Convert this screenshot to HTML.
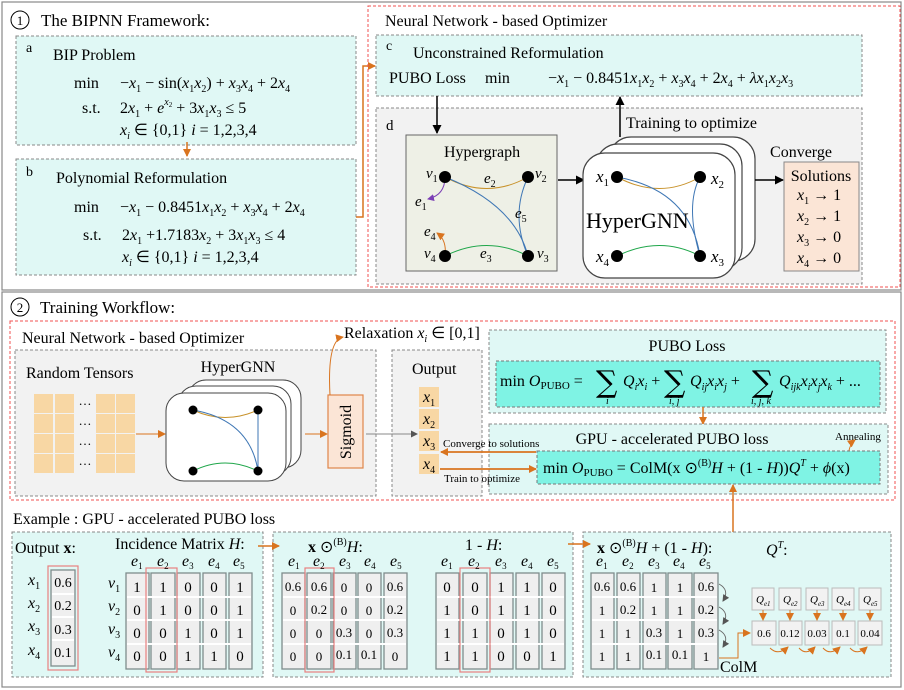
<!DOCTYPE html>
<html><head><meta charset="utf-8"><style>
html,body{margin:0;padding:0;background:#fff}
svg{display:block;font-family:"Liberation Serif",serif}
.i{font-style:italic}
.sg{font-family:"DejaVu Serif",serif}
</style></head><body>
<svg width="904" height="690" viewBox="0 0 904 690" xmlns="http://www.w3.org/2000/svg">
<defs>
<marker id="ao" markerWidth="8" markerHeight="8" refX="7" refY="4" orient="auto" markerUnits="userSpaceOnUse"><path d="M0,0 L8,4 L0,8 z" fill="#d9741f"/></marker>
<marker id="ab" markerWidth="9" markerHeight="9" refX="8" refY="4.5" orient="auto" markerUnits="userSpaceOnUse"><path d="M0,0 L9,4.5 L0,9 z" fill="#000"/></marker>
<marker id="ag" markerWidth="7" markerHeight="7" refX="6" refY="3.5" orient="auto" markerUnits="userSpaceOnUse"><path d="M0,0 L7,3.5 L0,7 z" fill="#555"/></marker>
<marker id="ap" markerWidth="7" markerHeight="7" refX="6" refY="3.5" orient="auto" markerUnits="userSpaceOnUse"><path d="M0,0 L7,3.5 L0,7 z" fill="#7b3fb5"/></marker>
</defs>
<rect x="2" y="2" width="899" height="288" fill="none" stroke="#888" stroke-width="1.2"/>
<rect x="2" y="292" width="899" height="395" fill="none" stroke="#888" stroke-width="1.2"/>

<circle cx="20" cy="20" r="9" fill="none" stroke="#000"/>
<text x="20" y="25" font-size="13" text-anchor="middle">1</text>
<text x="41" y="26" font-size="17">The BIPNN Framework:</text>

<rect x="16" y="36" width="340" height="109" fill="#e0f8f5" stroke="#888" stroke-dasharray="3,2"/>
<text x="26" y="52" font-size="14">a</text>
<text x="53" y="60" font-size="16">BIP Problem</text>
<text x="74" y="88" font-size="16">min</text>
<text x="120" y="88" font-size="16">−<tspan class="i">x</tspan><tspan font-size="10" dy="4">1</tspan><tspan dy="-4"> − sin(</tspan><tspan class="i">x</tspan><tspan font-size="10" dy="4">1</tspan><tspan dy="-4" class="i">x</tspan><tspan font-size="10" dy="4">2</tspan><tspan dy="-4">) + </tspan><tspan class="i">x</tspan><tspan font-size="10" dy="4">3</tspan><tspan dy="-4" class="i">x</tspan><tspan font-size="10" dy="4">4</tspan><tspan dy="-4"> + 2</tspan><tspan class="i">x</tspan><tspan font-size="10" dy="4">4</tspan></text>
<text x="82" y="113" font-size="16">s.t.</text>
<text x="120" y="113" font-size="16">2<tspan class="i">x</tspan><tspan font-size="10" dy="4">1</tspan><tspan dy="-4"> + </tspan><tspan class="i">e</tspan><tspan class="i" font-size="10" dy="-8">x</tspan><tspan font-size="7" dy="2">2</tspan><tspan dy="6"> + 3</tspan><tspan class="i">x</tspan><tspan font-size="10" dy="4">1</tspan><tspan dy="-4" class="i">x</tspan><tspan font-size="10" dy="4">3</tspan><tspan dy="-4"> ≤ 5</tspan></text>
<text x="120" y="135" font-size="16"><tspan class="i">x</tspan><tspan class="i" font-size="10" dy="4">i</tspan><tspan dy="-4"> ∈ {0,1}    </tspan><tspan class="i">i</tspan> = 1,2,3,4</text>

<line x1="187" y1="142" x2="187" y2="156" stroke="#d9741f" stroke-width="1.5" marker-end="url(#ao)"/>

<rect x="16" y="159" width="340" height="116" fill="#e0f8f5" stroke="#888" stroke-dasharray="3,2"/>
<text x="26" y="176" font-size="14">b</text>
<text x="56" y="183" font-size="16">Polynomial Reformulation</text>
<text x="74" y="212" font-size="16">min</text>
<text x="120" y="212" font-size="16">−<tspan class="i">x</tspan><tspan font-size="10" dy="4">1</tspan><tspan dy="-4"> − 0.8451</tspan><tspan class="i">x</tspan><tspan font-size="10" dy="4">1</tspan><tspan dy="-4" class="i">x</tspan><tspan font-size="10" dy="4">2</tspan><tspan dy="-4"> + </tspan><tspan class="i">x</tspan><tspan font-size="10" dy="4">3</tspan><tspan dy="-4" class="i">x</tspan><tspan font-size="10" dy="4">4</tspan><tspan dy="-4"> + 2</tspan><tspan class="i">x</tspan><tspan font-size="10" dy="4">4</tspan></text>
<text x="83" y="240" font-size="16">s.t.</text>
<text x="122" y="240" font-size="16">2<tspan class="i">x</tspan><tspan font-size="10" dy="4">1</tspan><tspan dy="-4"> +1.7183</tspan><tspan class="i">x</tspan><tspan font-size="10" dy="4">2</tspan><tspan dy="-4"> + 3</tspan><tspan class="i">x</tspan><tspan font-size="10" dy="4">1</tspan><tspan dy="-4" class="i">x</tspan><tspan font-size="10" dy="4">3</tspan><tspan dy="-4"> ≤ 4</tspan></text>
<text x="122" y="262" font-size="16"><tspan class="i">x</tspan><tspan class="i" font-size="10" dy="4">i</tspan><tspan dy="-4"> ∈ {0,1}    </tspan><tspan class="i">i</tspan> = 1,2,3,4</text>

<polyline points="356,217 363,217 363,66 375,66" fill="none" stroke="#d9741f" stroke-width="1.5" marker-end="url(#ao)"/>

<rect x="368" y="6" width="532" height="281" fill="none" stroke="#f05050" stroke-dasharray="3,2"/>
<text x="385" y="26" font-size="16">Neural Network - based Optimizer</text>
<rect x="376" y="35" width="486" height="61" fill="#e0f8f5" stroke="#888" stroke-dasharray="3,2"/>
<text x="386" y="50" font-size="14">c</text>
<text x="413" y="58" font-size="16">Unconstrained Reformulation</text>
<text x="389" y="83" font-size="16">PUBO Loss</text>
<text x="485" y="83" font-size="16">min</text>
<text x="548" y="83" font-size="16">−<tspan class="i">x</tspan><tspan font-size="10" dy="4">1</tspan><tspan dy="-4"> − 0.8451</tspan><tspan class="i">x</tspan><tspan font-size="10" dy="4">1</tspan><tspan dy="-4" class="i">x</tspan><tspan font-size="10" dy="4">2</tspan><tspan dy="-4"> + </tspan><tspan class="i">x</tspan><tspan font-size="10" dy="4">3</tspan><tspan dy="-4" class="i">x</tspan><tspan font-size="10" dy="4">4</tspan><tspan dy="-4"> + 2</tspan><tspan class="i">x</tspan><tspan font-size="10" dy="4">4</tspan><tspan dy="-4"> + </tspan><tspan class="i">λx</tspan><tspan font-size="10" dy="4">1</tspan><tspan dy="-4" class="i">x</tspan><tspan font-size="10" dy="4">2</tspan><tspan dy="-4" class="i">x</tspan><tspan font-size="10" dy="4">3</tspan></text>

<rect x="376" y="108" width="486" height="176" fill="#f2f2f2" stroke="#888" stroke-dasharray="3,2"/>
<text x="386" y="130" font-size="15">d</text>
<line x1="437" y1="96" x2="437" y2="133" stroke="#000" stroke-width="1.5" marker-end="url(#ab)"/>

<rect x="406" y="135" width="151" height="136" fill="#eef0e6" stroke="#666"/>
<text x="482" y="157" font-size="16" text-anchor="middle">Hypergraph</text>
<path d="M445,177 Q487,200 528,177" fill="none" stroke="#c8922a"/>
<path d="M445,177 Q515,205 528,256" fill="none" stroke="#3f77b5"/>
<path d="M528,177 Q510,215 528,256" fill="none" stroke="#3f77b5"/>
<path d="M445,256 Q487,235 528,256" fill="none" stroke="#1fa64a"/>
<path d="M445,177 Q445,195 428,199" fill="none" stroke="#7b3fb5" marker-end="url(#ap)"/>
<path d="M445,256 Q447,240 437,233" fill="none" stroke="#d9741f" marker-end="url(#ao)"/>
<circle cx="445" cy="177" r="6" fill="#000"/><circle cx="528" cy="177" r="6" fill="#000"/>
<circle cx="445" cy="256" r="6" fill="#000"/><circle cx="528" cy="256" r="6" fill="#000"/>
<g font-size="15" class="i">
<text x="426" y="178">v<tspan font-size="10" dy="4" font-style="normal">1</tspan></text>
<text x="535" y="178">v<tspan font-size="10" dy="4" font-style="normal">2</tspan></text>
<text x="537" y="258">v<tspan font-size="10" dy="4" font-style="normal">3</tspan></text>
<text x="424" y="258">v<tspan font-size="10" dy="4" font-style="normal">4</tspan></text>
<text x="484" y="183">e<tspan font-size="10" dy="4" font-style="normal">2</tspan></text>
<text x="415" y="206">e<tspan font-size="10" dy="4" font-style="normal">1</tspan></text>
<text x="515" y="218">e<tspan font-size="10" dy="4" font-style="normal">5</tspan></text>
<text x="424" y="236">e<tspan font-size="10" dy="4" font-style="normal">4</tspan></text>
<text x="480" y="258">e<tspan font-size="10" dy="4" font-style="normal">3</tspan></text>
</g>
<line x1="558" y1="180" x2="584" y2="180" stroke="#000" stroke-width="1.5" marker-end="url(#ab)"/>

<rect x="609" y="137" width="146" height="124" rx="22" fill="#fff" stroke="#444" stroke-width="1.2"/>
<rect x="596" y="144" width="146" height="126" rx="22" fill="#fff" stroke="#444" stroke-width="1.2"/>
<rect x="583" y="153" width="152" height="125" rx="22" fill="#fff" stroke="#444" stroke-width="1.2"/>
<path d="M617,177 Q660,200 700,177" fill="none" stroke="#c8922a"/>
<path d="M617,177 Q690,190 700,256" fill="none" stroke="#3f77b5"/>
<path d="M700,177 Q685,205 700,256" fill="none" stroke="#3f77b5"/>
<path d="M617,256 Q660,235 700,256" fill="none" stroke="#1fa64a"/>
<circle cx="617" cy="177" r="6" fill="#000"/><circle cx="700" cy="177" r="6" fill="#000"/>
<circle cx="617" cy="256" r="6" fill="#000"/><circle cx="700" cy="256" r="6" fill="#000"/>
<g font-size="17" class="i">
<text x="596" y="182">x<tspan font-size="11" dy="4" font-style="normal">1</tspan></text>
<text x="711" y="184">x<tspan font-size="11" dy="4" font-style="normal">2</tspan></text>
<text x="711" y="262">x<tspan font-size="11" dy="4" font-style="normal">3</tspan></text>
<text x="596" y="262">x<tspan font-size="11" dy="4" font-style="normal">4</tspan></text>
</g>
<text x="586" y="228" font-size="22">HyperGNN</text>
<line x1="620" y1="137" x2="620" y2="97" stroke="#000" stroke-width="1.5" marker-end="url(#ab)"/>
<text x="626" y="128" font-size="16">Training to optimize</text>
<line x1="755" y1="180" x2="783" y2="180" stroke="#000" stroke-width="1.5" marker-end="url(#ab)"/>
<text x="801" y="157" font-size="16" text-anchor="middle">Converge</text>
<rect x="784" y="162" width="75" height="109" fill="#fbe5d6" stroke="#888"/>
<text x="821" y="181" font-size="16" text-anchor="middle">Solutions</text>
<g font-size="16">
<text x="797" y="200"><tspan class="i">x</tspan><tspan font-size="10" dy="4">1</tspan><tspan dy="-4"> → 1</tspan></text>
<text x="797" y="221"><tspan class="i">x</tspan><tspan font-size="10" dy="4">2</tspan><tspan dy="-4"> → 1</tspan></text>
<text x="797" y="242"><tspan class="i">x</tspan><tspan font-size="10" dy="4">3</tspan><tspan dy="-4"> → 0</tspan></text>
<text x="797" y="263"><tspan class="i">x</tspan><tspan font-size="10" dy="4">4</tspan><tspan dy="-4"> → 0</tspan></text>
</g>

<circle cx="20" cy="307" r="9" fill="none" stroke="#000"/>
<text x="20" y="312" font-size="13" text-anchor="middle">2</text>
<text x="40" y="313" font-size="17">Training Workflow:</text>
<rect x="10" y="321" width="885" height="179" fill="none" stroke="#f05050" stroke-dasharray="3,2"/>
<text x="22" y="343" font-size="16">Neural Network - based Optimizer</text>
<rect x="15" y="350" width="361" height="146" fill="#f2f2f2" stroke="#888" stroke-dasharray="3,2"/>
<text x="26" y="378" font-size="16">Random Tensors</text>
<g fill="#f8d7a4">
<rect x="34" y="394" width="19" height="19"/><rect x="55" y="394" width="19" height="19"/><rect x="96" y="394" width="19" height="19"/><rect x="116" y="394" width="19" height="19"/>
<rect x="34" y="414" width="19" height="19"/><rect x="55" y="414" width="19" height="19"/><rect x="96" y="414" width="19" height="19"/><rect x="116" y="414" width="19" height="19"/>
<rect x="34" y="434" width="19" height="19"/><rect x="55" y="434" width="19" height="19"/><rect x="96" y="434" width="19" height="19"/><rect x="116" y="434" width="19" height="19"/>
<rect x="34" y="454" width="19" height="19"/><rect x="55" y="454" width="19" height="19"/><rect x="96" y="454" width="19" height="19"/><rect x="116" y="454" width="19" height="19"/>
</g>
<g font-size="13" text-anchor="middle"><text x="85" y="405">…</text><text x="85" y="425">…</text><text x="85" y="445">…</text><text x="85" y="465">…</text></g>
<line x1="136" y1="434" x2="165" y2="434" stroke="#d9741f" marker-end="url(#ao)"/>
<text x="238" y="372" font-size="16" text-anchor="middle">HyperGNN</text>
<rect x="188" y="380" width="113" height="88" rx="18" fill="#fff" stroke="#444"/>
<rect x="178" y="386" width="113" height="89" rx="18" fill="#fff" stroke="#444"/>
<rect x="166" y="393" width="120" height="88" rx="18" fill="#fff" stroke="#444"/>
<path d="M193,410 Q225,425 258,410" fill="none" stroke="#c8922a"/>
<path d="M193,410 Q250,420 258,471" fill="none" stroke="#3f77b5"/>
<path d="M258,410 L258,471" fill="none" stroke="#3f77b5"/>
<path d="M193,471 Q225,455 258,471" fill="none" stroke="#1fa64a"/>
<circle cx="193" cy="410" r="4.5" fill="#000"/><circle cx="258" cy="410" r="4.5" fill="#000"/>
<circle cx="193" cy="471" r="4.5" fill="#000"/><circle cx="258" cy="471" r="4.5" fill="#000"/>
<line x1="305" y1="434" x2="327" y2="434" stroke="#d9741f" marker-end="url(#ao)"/>
<rect x="328" y="395" width="35" height="73" fill="#fbe5d6" stroke="#e0864a" stroke-width="1.2"/>
<text transform="translate(351,432) rotate(-90)" font-size="16" text-anchor="middle">Sigmoid</text>
<path d="M330,395 Q327,340 343,337" fill="none" stroke="#d9741f" marker-end="url(#ao)"/>
<text x="344" y="338" font-size="16">Relaxation  <tspan class="i">x</tspan><tspan class="i" font-size="10" dy="4">i</tspan><tspan dy="-4"> ∈ [0,1]</tspan></text>
<rect x="392" y="350" width="90" height="146" fill="#f2f2f2" stroke="#888" stroke-dasharray="3,2"/>
<line x1="366" y1="434" x2="417" y2="434" stroke="#888" marker-end="url(#ag)"/>
<text x="412" y="374" font-size="16">Output</text>
<g fill="#f8d7a4"><rect x="419" y="387" width="20" height="20"/><rect x="419" y="409" width="20" height="20"/><rect x="419" y="431" width="20" height="20"/><rect x="419" y="454" width="20" height="20"/></g>
<g font-size="16" class="i">
<text x="423" y="402">x<tspan font-size="10" dy="4" font-style="normal">1</tspan></text>
<text x="423" y="424">x<tspan font-size="10" dy="4" font-style="normal">2</tspan></text>
<text x="423" y="446">x<tspan font-size="10" dy="4" font-style="normal">3</tspan></text>
<text x="423" y="469">x<tspan font-size="10" dy="4" font-style="normal">4</tspan></text>
</g>

<rect x="489" y="330" width="397" height="83" fill="#e0f8f5" stroke="#888" stroke-dasharray="3,2"/>
<text x="687" y="351" font-size="16" text-anchor="middle">PUBO Loss</text>
<rect x="496" y="361" width="384" height="46" fill="#7ff3e4" stroke="#777" stroke-dasharray="3,2"/>
<text x="500" y="386" font-size="16">min  <tspan class="i">O</tspan><tspan font-size="11" dy="3">PUBO</tspan><tspan dy="-3"> = </tspan></text>
<text x="596" y="392" font-size="30" class="sg">∑</text><text x="606" y="404" font-size="10" class="i">i</text>
<text x="623" y="386" font-size="16" class="i">Q<tspan font-size="10" dy="4">i</tspan><tspan dy="-4">x</tspan><tspan font-size="10" dy="4">i</tspan><tspan dy="-4" font-style="normal"> +</tspan></text>
<text x="664" y="392" font-size="30" class="sg">∑</text><text x="669" y="404" font-size="10" class="i">i, j</text>
<text x="690" y="386" font-size="16" class="i">Q<tspan font-size="10" dy="4">ij</tspan><tspan dy="-4">x</tspan><tspan font-size="10" dy="4">i</tspan><tspan dy="-4">x</tspan><tspan font-size="10" dy="4">j</tspan><tspan dy="-4" font-style="normal"> +</tspan></text>
<text x="752" y="392" font-size="30" class="sg">∑</text><text x="751" y="404" font-size="10" class="i">i, j, k</text>
<text x="779" y="386" font-size="16" class="i">Q<tspan font-size="10" dy="4">ijk</tspan><tspan dy="-4">x</tspan><tspan font-size="10" dy="4">i</tspan><tspan dy="-4">x</tspan><tspan font-size="10" dy="4">j</tspan><tspan dy="-4">x</tspan><tspan font-size="10" dy="4">k</tspan><tspan dy="-4" font-style="normal"> + ...</tspan></text>
<line x1="703" y1="407" x2="703" y2="424" stroke="#d9741f" stroke-width="1.5" marker-end="url(#ao)"/>
<rect x="489" y="424" width="399" height="70" fill="#e0f8f5" stroke="#888" stroke-dasharray="3,2"/>
<text x="672" y="444" font-size="16" text-anchor="middle">GPU - accelerated PUBO loss</text>
<text x="835" y="440" font-size="11">Annealing</text>
<path d="M848,461 Q848,445 855,440" fill="none" stroke="#d9741f" marker-end="url(#ao)"/>
<rect x="537" y="451" width="343" height="33" fill="#7ff3e4" stroke="#777" stroke-dasharray="3,2"/>
<text x="543" y="473" font-size="16">min  <tspan class="i">O</tspan><tspan font-size="11" dy="3">PUBO</tspan><tspan dy="-3">  = ColM(x ⊙</tspan><tspan font-size="10" dy="-7">(B)</tspan><tspan dy="7" class="i">H</tspan><tspan> + (1 - </tspan><tspan class="i">H</tspan><tspan>))</tspan><tspan class="i">Q</tspan><tspan class="i" font-size="10" dy="-7">T</tspan><tspan dy="7"> + </tspan><tspan class="i">ϕ</tspan><tspan>(x)</tspan></text>
<line x1="536" y1="452" x2="441" y2="452" stroke="#d9741f" stroke-width="1.8" marker-end="url(#ao)"/>
<text x="443" y="447" font-size="11">Converge to solutions</text>
<line x1="440" y1="469" x2="536" y2="469" stroke="#d9741f" stroke-width="1.8" marker-end="url(#ao)"/>
<text x="444" y="482" font-size="11">Train to optimize</text>
<line x1="733" y1="532" x2="733" y2="485" stroke="#d9741f" stroke-width="1.5" marker-end="url(#ao)"/>

<text x="13" y="524" font-size="16">Example : GPU - accelerated PUBO loss</text>
<rect x="12" y="532" width="251" height="145" fill="#e0f8f5" stroke="#888" stroke-dasharray="3,2"/>
<rect x="273" y="532" width="300" height="145" fill="#e0f8f5" stroke="#888" stroke-dasharray="3,2"/>
<rect x="583" y="532" width="308" height="145" fill="#e0f8f5" stroke="#888" stroke-dasharray="3,2"/>
<text x="15" y="553" font-size="16">Output  <tspan font-weight="bold">x</tspan>:</text>
<text x="115" y="549" font-size="16">Incidence Matrix <tspan class="i">H</tspan>:</text>
<line x1="258" y1="546" x2="279" y2="546" stroke="#d9741f" stroke-width="1.5" marker-end="url(#ao)"/>
<line x1="568" y1="544" x2="590" y2="544" stroke="#d9741f" stroke-width="1.5" marker-end="url(#ao)"/>
<text x="308" y="552" font-size="16"><tspan font-weight="bold">x</tspan> ⊙<tspan font-size="10" dy="-7">(B)</tspan><tspan dy="7" class="i">H</tspan>:</text>
<text x="465" y="550" font-size="16">1 - <tspan class="i">H</tspan>:</text>
<text x="597" y="553" font-size="16"><tspan font-weight="bold">x</tspan> ⊙<tspan font-size="10" dy="-7">(B)</tspan><tspan dy="7" class="i">H</tspan> + (1 - <tspan class="i">H</tspan>):</text>
<text x="766" y="555" font-size="16"><tspan class="i">Q</tspan><tspan class="i" font-size="10" dy="-7">T</tspan><tspan dy="7">:</tspan></text>

<g fill="#efefef" stroke="#7f8c8c" stroke-width="1.3">
<rect x="51" y="570" width="24" height="96"/>
<rect x="126" y="573" width="23" height="96"/><rect x="151" y="573" width="24" height="96"/><rect x="177" y="573" width="23" height="96"/><rect x="203" y="573" width="23" height="96"/><rect x="229" y="573" width="23" height="96"/>
<rect x="282" y="573" width="23" height="96"/><rect x="307" y="573" width="24" height="96"/><rect x="333" y="573" width="23" height="96"/><rect x="358" y="573" width="23" height="96"/><rect x="384" y="573" width="23" height="96"/>
<rect x="436" y="573" width="23" height="96"/><rect x="463" y="573" width="24" height="96"/><rect x="490" y="573" width="23" height="96"/><rect x="516" y="573" width="23" height="96"/><rect x="542" y="573" width="23" height="96"/>
<rect x="591" y="573" width="23" height="96"/><rect x="617" y="573" width="23" height="96"/><rect x="643" y="573" width="23" height="96"/><rect x="668" y="573" width="24" height="96"/><rect x="694" y="573" width="24" height="96"/>
</g>
<g stroke="#fff" stroke-width="2">
<line x1="52" y1="594" x2="74" y2="594"/><line x1="52" y1="617" x2="74" y2="617"/><line x1="52" y1="640" x2="74" y2="640"/>
<line x1="127" y1="597" x2="251" y2="597"/><line x1="127" y1="620" x2="251" y2="620"/><line x1="127" y1="644" x2="251" y2="644"/>
<line x1="283" y1="597" x2="406" y2="597"/><line x1="283" y1="620" x2="406" y2="620"/><line x1="283" y1="644" x2="406" y2="644"/>
<line x1="437" y1="597" x2="564" y2="597"/><line x1="437" y1="620" x2="564" y2="620"/><line x1="437" y1="644" x2="564" y2="644"/>
<line x1="592" y1="597" x2="717" y2="597"/><line x1="592" y1="620" x2="717" y2="620"/><line x1="592" y1="644" x2="717" y2="644"/>
</g>
<g fill="none" stroke="#e88080" stroke-width="1.2">
<rect x="48" y="566" width="30" height="104"/><rect x="146" y="568" width="31" height="104"/><rect x="305" y="568" width="29" height="104"/><rect x="460" y="568" width="30" height="104"/>
</g>
<g font-size="16" class="i">
<text x="28" y="585">x<tspan font-size="10" dy="4" font-style="normal">1</tspan></text>
<text x="28" y="608">x<tspan font-size="10" dy="4" font-style="normal">2</tspan></text>
<text x="28" y="631">x<tspan font-size="10" dy="4" font-style="normal">3</tspan></text>
<text x="28" y="655">x<tspan font-size="10" dy="4" font-style="normal">4</tspan></text>
<text x="108" y="588">v<tspan font-size="10" dy="4" font-style="normal">1</tspan></text>
<text x="108" y="611">v<tspan font-size="10" dy="4" font-style="normal">2</tspan></text>
<text x="108" y="634">v<tspan font-size="10" dy="4" font-style="normal">3</tspan></text>
<text x="108" y="657">v<tspan font-size="10" dy="4" font-style="normal">4</tspan></text>
</g>
<g font-size="16" class="i">
<text x="131" y="566">e<tspan font-size="9" dy="3" font-style="normal">1</tspan></text><text x="157" y="566">e<tspan font-size="9" dy="3" font-style="normal">2</tspan></text><text x="182" y="566">e<tspan font-size="9" dy="3" font-style="normal">3</tspan></text><text x="208" y="566">e<tspan font-size="9" dy="3" font-style="normal">4</tspan></text><text x="233" y="566">e<tspan font-size="9" dy="3" font-style="normal">5</tspan></text>
<text x="288" y="566">e<tspan font-size="9" dy="3" font-style="normal">1</tspan></text><text x="313" y="566">e<tspan font-size="9" dy="3" font-style="normal">2</tspan></text><text x="339" y="566">e<tspan font-size="9" dy="3" font-style="normal">3</tspan></text><text x="364" y="566">e<tspan font-size="9" dy="3" font-style="normal">4</tspan></text><text x="390" y="566">e<tspan font-size="9" dy="3" font-style="normal">5</tspan></text>
<text x="441" y="566">e<tspan font-size="9" dy="3" font-style="normal">1</tspan></text><text x="468" y="566">e<tspan font-size="9" dy="3" font-style="normal">2</tspan></text><text x="495" y="566">e<tspan font-size="9" dy="3" font-style="normal">3</tspan></text><text x="521" y="566">e<tspan font-size="9" dy="3" font-style="normal">4</tspan></text><text x="547" y="566">e<tspan font-size="9" dy="3" font-style="normal">5</tspan></text>
<text x="596" y="566">e<tspan font-size="9" dy="3" font-style="normal">1</tspan></text><text x="622" y="566">e<tspan font-size="9" dy="3" font-style="normal">2</tspan></text><text x="648" y="566">e<tspan font-size="9" dy="3" font-style="normal">3</tspan></text><text x="673" y="566">e<tspan font-size="9" dy="3" font-style="normal">4</tspan></text><text x="699" y="566">e<tspan font-size="9" dy="3" font-style="normal">5</tspan></text>
</g>
<g font-size="14" text-anchor="middle">
<text x="63" y="587">0.6</text><text x="63" y="610">0.2</text><text x="63" y="634">0.3</text><text x="63" y="657">0.1</text>
</g>
<g font-size="15" text-anchor="middle">
<text x="137" y="592">1</text><text x="163" y="592">1</text><text x="188" y="592">0</text><text x="214" y="592">0</text><text x="240" y="592">1</text>
<text x="137" y="615">0</text><text x="163" y="615">1</text><text x="188" y="615">0</text><text x="214" y="615">0</text><text x="240" y="615">1</text>
<text x="137" y="638">0</text><text x="163" y="638">0</text><text x="188" y="638">1</text><text x="214" y="638">0</text><text x="240" y="638">1</text>
<text x="137" y="661">0</text><text x="163" y="661">0</text><text x="188" y="661">1</text><text x="214" y="661">1</text><text x="240" y="661">0</text>
<text x="447" y="592">0</text><text x="475" y="592">0</text><text x="501" y="592">1</text><text x="527" y="592">1</text><text x="553" y="592">0</text>
<text x="447" y="615">1</text><text x="475" y="615">0</text><text x="501" y="615">1</text><text x="527" y="615">1</text><text x="553" y="615">0</text>
<text x="447" y="638">1</text><text x="475" y="638">1</text><text x="501" y="638">0</text><text x="527" y="638">1</text><text x="553" y="638">0</text>
<text x="447" y="661">1</text><text x="475" y="661">1</text><text x="501" y="661">0</text><text x="527" y="661">0</text><text x="553" y="661">1</text>
</g>
<g font-size="13" text-anchor="middle">
<text x="293" y="591">0.6</text><text x="319" y="591">0.6</text><text x="344" y="592">0</text><text x="369" y="592">0</text><text x="395" y="591">0.6</text>
<text x="293" y="615">0</text><text x="319" y="614">0.2</text><text x="344" y="615">0</text><text x="369" y="615">0</text><text x="395" y="614">0.2</text>
<text x="293" y="638">0</text><text x="319" y="638">0</text><text x="344" y="637">0.3</text><text x="369" y="638">0</text><text x="395" y="637">0.3</text>
<text x="293" y="661">0</text><text x="319" y="661">0</text><text x="344" y="659">0.1</text><text x="369" y="659">0.1</text><text x="395" y="661">0</text>
<text x="602" y="591">0.6</text><text x="628" y="591">0.6</text><text x="654" y="592">1</text><text x="680" y="592">1</text><text x="706" y="591">0.6</text>
<text x="602" y="615">1</text><text x="628" y="614">0.2</text><text x="654" y="615">1</text><text x="680" y="615">1</text><text x="706" y="614">0.2</text>
<text x="602" y="638">1</text><text x="628" y="638">1</text><text x="654" y="637">0.3</text><text x="680" y="638">1</text><text x="706" y="637">0.3</text>
<text x="602" y="661">1</text><text x="628" y="661">1</text><text x="654" y="659">0.1</text><text x="680" y="659">0.1</text><text x="706" y="661">1</text>
</g>
<g fill="none" stroke="#666" stroke-width="0.9">
<path d="M719,584 Q730,590 723,601" marker-end="url(#ag)"/>
<path d="M719,607 Q730,613 723,624" marker-end="url(#ag)"/>
<path d="M719,630 Q730,636 723,647" marker-end="url(#ag)"/>
</g>
<text x="720" y="672" font-size="16">ColM</text>
<polyline points="719,658 738,658 738,633 750,633" fill="none" stroke="#d9741f" marker-end="url(#ao)"/>
<g fill="#f2f2f2" stroke="#bbb">
<rect x="752" y="588" width="22" height="22"/><rect x="779" y="588" width="22" height="22"/><rect x="806" y="588" width="22" height="22"/><rect x="832" y="588" width="22" height="22"/><rect x="859" y="588" width="22" height="22"/>
<rect x="752" y="621" width="24" height="24"/><rect x="779" y="621" width="23" height="24"/><rect x="805" y="621" width="24" height="24"/><rect x="832" y="621" width="23" height="24"/><rect x="858" y="621" width="24" height="24"/>
</g>
<g font-size="11" class="i">
<text x="756" y="603">Q<tspan font-size="7" dy="3">e1</tspan></text><text x="783" y="603">Q<tspan font-size="7" dy="3">e2</tspan></text><text x="810" y="603">Q<tspan font-size="7" dy="3">e3</tspan></text><text x="836" y="603">Q<tspan font-size="7" dy="3">e4</tspan></text><text x="863" y="603">Q<tspan font-size="7" dy="3">e5</tspan></text>
</g>
<g font-size="11" text-anchor="middle">
<text x="764" y="637">0.6</text><text x="790" y="637">0.12</text><text x="817" y="637">0.03</text><text x="843" y="637">0.1</text><text x="870" y="637">0.04</text>
</g>
<g stroke="#d9741f" fill="none">
<line x1="763" y1="610" x2="763" y2="620" marker-end="url(#ao)"/><line x1="790" y1="610" x2="790" y2="620" marker-end="url(#ao)"/><line x1="817" y1="610" x2="817" y2="620" marker-end="url(#ao)"/><line x1="843" y1="610" x2="843" y2="620" marker-end="url(#ao)"/><line x1="870" y1="610" x2="870" y2="620" marker-end="url(#ao)"/>
<path d="M770,648 Q778,656 788,647" marker-end="url(#ao)"/><path d="M799,648 Q806,656 815,647" marker-end="url(#ao)"/><path d="M823,648 Q830,656 840,647" marker-end="url(#ao)"/><path d="M850,648 Q857,656 867,647" marker-end="url(#ao)"/>
</g>
</svg>
</body></html>
